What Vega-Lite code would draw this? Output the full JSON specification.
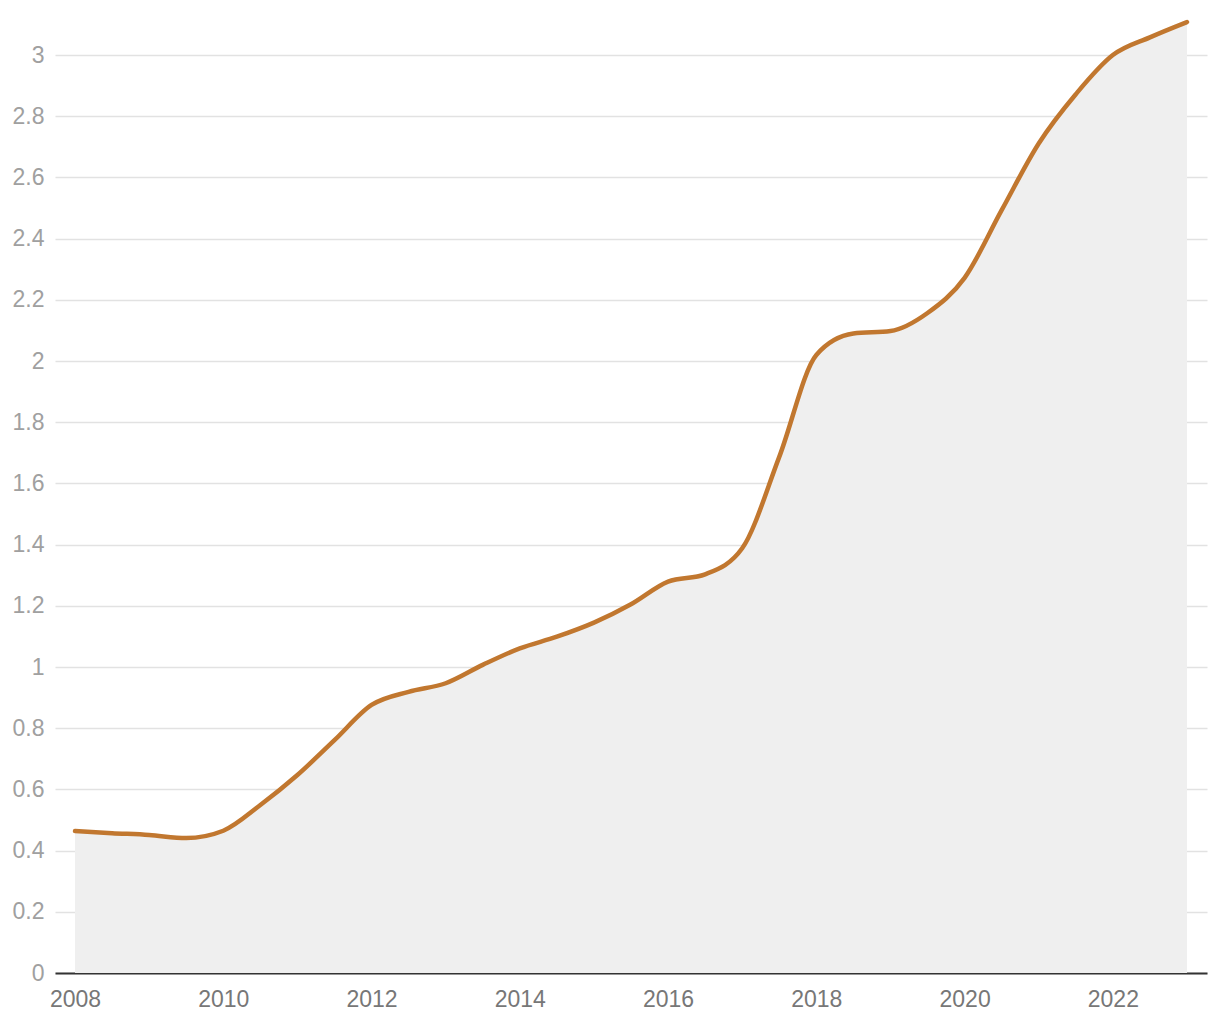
{
  "$schema": "https://vega.github.io/schema/vega-lite/v6.json",
  "width": 1152,
  "height": 973,
  "autosize": {"type": "none"},
  "padding": {"left": 55, "right": 13, "top": 0, "bottom": 47},
  "background": "white",
  "config": {"view": {"stroke": null}, "font": "Liberation Sans"},
  "data": {"values": [
    {"year": 2008, "value": 0.464},
    {"year": 2008.5, "value": 0.457},
    {"year": 2009, "value": 0.451},
    {"year": 2009.5, "value": 0.441},
    {"year": 2010, "value": 0.465},
    {"year": 2010.5, "value": 0.549},
    {"year": 2011, "value": 0.647},
    {"year": 2011.5, "value": 0.761},
    {"year": 2012, "value": 0.876},
    {"year": 2012.5, "value": 0.919},
    {"year": 2013, "value": 0.947},
    {"year": 2013.5, "value": 1.007},
    {"year": 2014, "value": 1.061},
    {"year": 2014.5, "value": 1.099},
    {"year": 2015, "value": 1.145},
    {"year": 2015.5, "value": 1.205},
    {"year": 2016, "value": 1.279},
    {"year": 2016.5, "value": 1.303},
    {"year": 2017, "value": 1.388},
    {"year": 2017.5, "value": 1.687},
    {"year": 2018, "value": 2.02},
    {"year": 2018.5, "value": 2.09},
    {"year": 2019, "value": 2.098},
    {"year": 2019.5, "value": 2.157},
    {"year": 2020, "value": 2.272},
    {"year": 2020.5, "value": 2.493},
    {"year": 2021, "value": 2.711},
    {"year": 2021.5, "value": 2.872},
    {"year": 2022, "value": 3.0},
    {"year": 2022.5, "value": 3.058},
    {"year": 2023, "value": 3.108}
  ]},
  "encoding": {
    "x": {
      "field": "year",
      "type": "quantitative",
      "scale": {"domain": [2007.73, 2023.27], "nice": false, "zero": false},
      "axis": {
        "title": null,
        "values": [2008, 2010, 2012, 2014, 2016, 2018, 2020, 2022],
        "format": "d",
        "grid": false,
        "ticks": false,
        "domain": true,
        "domainColor": "#333333",
        "domainWidth": 2,
        "labelFontSize": 23,
        "labelColor": "#777777",
        "labelPadding": 15,
        "labelFont": "Liberation Sans"
      }
    },
    "y": {
      "field": "value",
      "type": "quantitative",
      "scale": {"domain": [0, 3.18], "nice": false},
      "axis": {
        "title": null,
        "values": [0, 0.2, 0.4, 0.6, 0.8, 1, 1.2, 1.4, 1.6, 1.8, 2, 2.2, 2.4, 2.6, 2.8, 3],
        "format": "~g",
        "grid": true,
        "gridColor": "#e2e2e2",
        "gridWidth": 1.5,
        "ticks": false,
        "domain": false,
        "labelFontSize": 23,
        "labelColor": "#a0a0a0",
        "labelPadding": 11,
        "labelFont": "Liberation Sans"
      }
    }
  },
  "layer": [
    {"mark": {"type": "area", "interpolate": "monotone", "color": "#efefef", "opacity": 1}},
    {"mark": {"type": "line", "interpolate": "monotone", "color": "#c1772f", "strokeWidth": 4.5, "strokeCap": "round"}}
  ]
}
